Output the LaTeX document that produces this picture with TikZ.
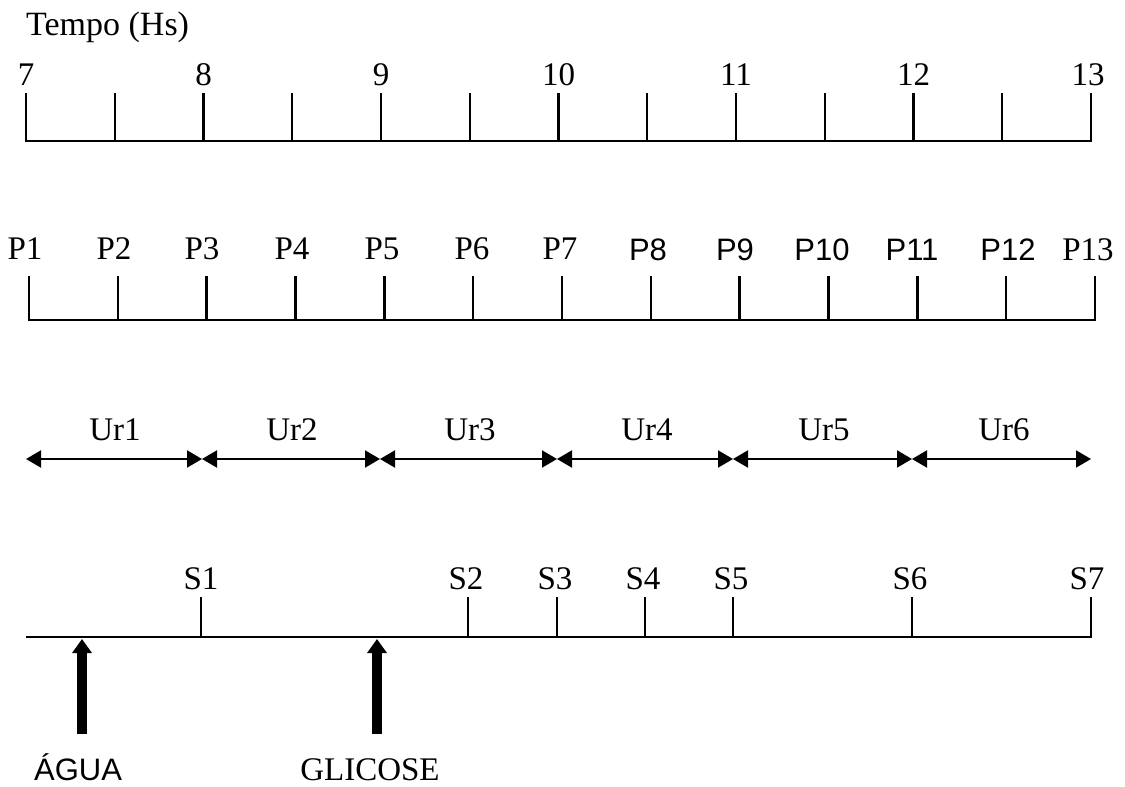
\documentclass[tikz,border=0pt]{standalone}
\usepackage{fontspec}
\setmainfont{Liberation Serif}
\newfontfamily\sansf{Liberation Sans}
\usetikzlibrary{arrows.meta,calc}
\begin{document}
\begin{tikzpicture}[x=1pt,y=-1pt,
  lbl/.style={font=\fontsize{33}{38}\selectfont, inner sep=0pt},
  slbl/.style={font=\fontsize{31}{36}\selectfont\sansf, inner sep=0pt},
  axisline/.style={line width=2.6pt, line join=miter},
  tickline/.style={line width=2.4pt},
  urarrow/.style={line width=2pt, {Triangle[length=15pt,width=17pt]}-{Triangle[length=15pt,width=17pt]}},
  bigarrow/.style={line width=9.5pt, -{Triangle[length=14pt,width=19pt]}}
]
\useasboundingbox (0,0) rectangle (1125,787);
\fill[white] (0,0) rectangle (1125,787);

% Title
\node[lbl, anchor=west, font=\fontsize{34}{38}\selectfont] (title) at (26,27) {Tempo (Hs)};

% Row 1: hours
\foreach \k in {0,...,12}{
  \coordinate (a\k) at ({26+88.75*\k},141);
}
\draw[axisline] (a0) ++(0,-48) -- (a0) -- (a12) -- ++(0,-48);
\foreach \k in {1,...,11}{
  \draw[tickline] (a\k) -- ++(0,-48);
}
\foreach \h/\k in {7/0,8/2,9/4,10/6,11/8,12/10}{
  \node[lbl] (h\h) at ($(a\k)+(0,-66)$) {\h};
}
\node[lbl] (h13) at ($(a12)+(-3,-66)$) {13};

% Row 2: P
\foreach \k in {0,...,12}{
  \coordinate (b\k) at ({29+88.83*\k},320);
}
\draw[axisline] (b0) ++(0,-44) -- (b0) -- (b12) -- ++(0,-44);
\foreach \k in {1,...,11}{
  \draw[tickline] (b\k) -- ++(0,-44);
}
\node[lbl] (p1) at (25,249) {P1};
\node[lbl] (p2) at (114,249) {P2};
\node[lbl] (p3) at (202,249) {P3};
\node[lbl] (p4) at (292,249) {P4};
\node[lbl] (p5) at (382,249) {P5};
\node[lbl] (p6) at (472,249) {P6};
\node[lbl] (p7) at (560,249) {P7};
\node[slbl] (p8) at (648,250) {P8};
\node[slbl] (p9) at (735,250) {P9};
\node[slbl] (p10) at (822,250) {P10};
\node[slbl] (p11) at (912,250) {P11};
\node[slbl] (p12) at (1008,250) {P12};
\node[lbl] (p13) at (1088,250) {P13};

% Row 3: Ur
\foreach \x [count=\i from 0] in {26,202,380,557,733,912,1091}{
  \coordinate (j\i) at (\x,459);
}
\foreach \i/\n in {0/1,1/2,2/3,3/4,4/5,5/6}{
  \draw[urarrow] (j\i) -- (j\n);
}
\foreach \n/\x in {1/115,2/292,3/470,4/647,5/824,6/1004}{
  \node[lbl] (ur\n) at (\x,430) {Ur\n};
}

% Row 4: S
\coordinate (s0) at (26,637);
\coordinate (s7) at (1091,637);
\draw[line width=2.2pt] (s0) -- (s7) -- ++(0,-40);
\foreach \n/\x in {1/201,2/468,3/557,4/645,5/733,6/912}{
  \coordinate (s\n) at (\x,637);
  \draw[tickline] (s\n) -- ++(0,-40);
}
\foreach \n/\x in {1/201,2/466,3/555,4/643,5/731,6/910,7/1087}{
  \node[lbl] (sl\n) at (\x,579) {S\n};
}

% Arrows
\coordinate (agtop) at (82,639);
\coordinate (agbot) at (82,734);
\coordinate (gltop) at (377,639);
\coordinate (glbot) at (377,734);
\draw[bigarrow] (agbot) -- (agtop);
\draw[bigarrow] (glbot) -- (gltop);
\node[slbl, anchor=base] (agua) at (78,780) {ÁGUA};
\node[lbl, anchor=base] (glicose) at (370,780) {GLICOSE};
\end{tikzpicture}
\end{document}
